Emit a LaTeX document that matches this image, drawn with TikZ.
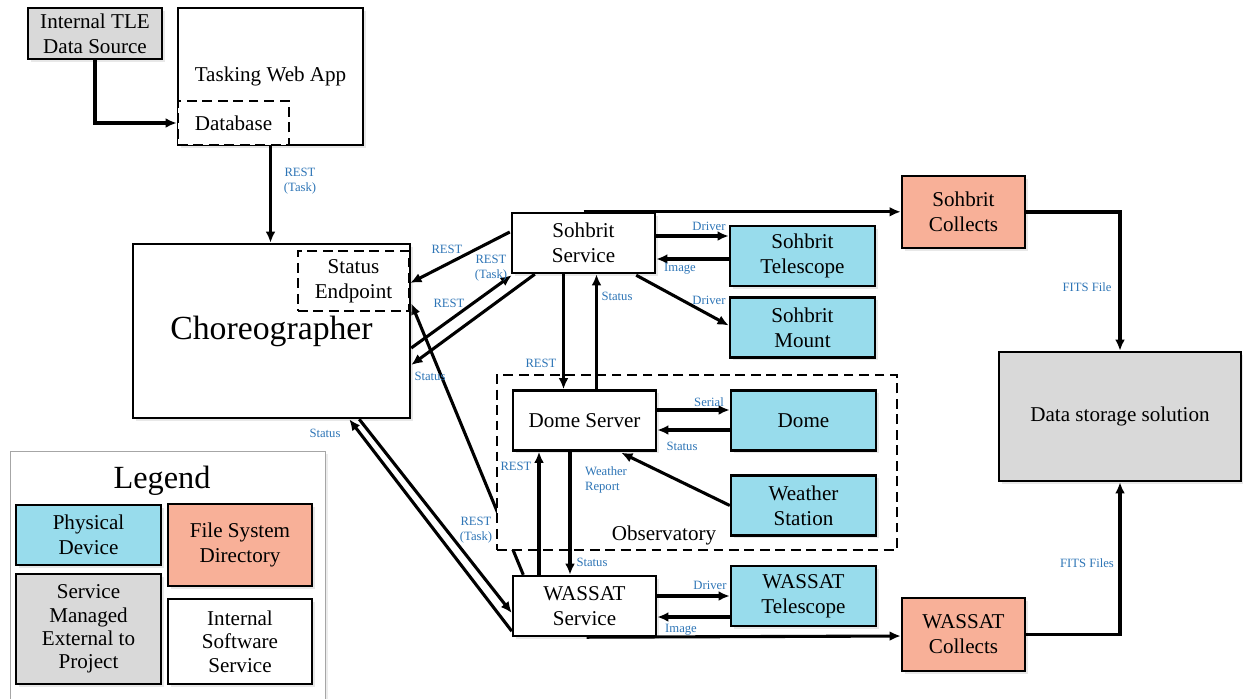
\documentclass[tikz,border=0pt]{standalone}
\usepackage{fontspec}
\setmainfont{Liberation Serif}
\usetikzlibrary{%
  arrows.meta,%
  calc,%
  shadows,%
  backgrounds%
}
\definecolor{devblue}{RGB}{152,220,236}
\definecolor{dirsalmon}{RGB}{248,176,152}
\definecolor{extgray}{RGB}{217,217,217}
\definecolor{lblblue}{RGB}{46,117,182}
\tikzset{
  box/.style={draw,line width=1.7pt,fill=white,align=center,inner sep=0pt,
    font=\fontsize{15}{17.8}\selectfont,
    drop shadow={shadow xshift=2pt,shadow yshift=-2pt,opacity=0.18}},
  device/.style={box,fill=devblue},
  dir/.style={box,fill=dirsalmon},
  ext/.style={box,fill=extgray},
  part/.style={draw,dash pattern=on 7pt off 4pt,line width=1.7pt,fill=white,
    align=center,inner sep=0pt,font=\fontsize{15}{17.8}\selectfont},
  svcsize/.style={minimum width=3.575cm,minimum height=1.5cm},
  devsize/.style={minimum width=3.625cm,minimum height=1.5cm},
  conn/.style={line width=2.2pt,-{Latex[length=8pt,width=7pt]}},
  lbl/.style={text=lblblue,font=\fontsize{9}{10.5}\selectfont,align=center,inner sep=0pt},
  legframe/.style={draw=gray!70,line width=0.6pt,fill=white,
    drop shadow={shadow xshift=2pt,shadow yshift=-2pt,opacity=0.15}}
}
\begin{document}
\begin{tikzpicture}[x=0.025cm,y=-0.025cm]
  \useasboundingbox (0,0) rectangle (1243,698);
  \node[ext,minimum width=3.35cm,minimum height=1.275cm] (tle) at (95,33.5) {Internal TLE\\Data Source};
  \node[box,minimum width=4.625cm,minimum height=3.425cm] (task) at (270.5,76.5) {Tasking Web App};
  \node[part,minimum width=2.775cm,minimum height=1.1cm] (db) at (233.5,123) {Database};
  \node[box,minimum width=6.925cm,minimum height=4.35cm,font=\fontsize{24}{28}\selectfont] (chor) at (271.5,331) {Choreographer};
  \node[part,minimum width=2.775cm,minimum height=1.5cm] (stat) at (353.5,281) {Status\\Endpoint};
  \node[box,svcsize] (sohsvc) at (583.5,243) {Sohbrit\\Service};
  \node[device,devsize] (sohtel) at (802.5,256) {Sohbrit\\Telescope};
  \node[device,devsize] (sohmnt) at (802.5,327.5) {Sohbrit\\Mount};
  \node[dir,minimum width=3.075cm,minimum height=1.8cm] (sohcol) at (963.5,212) {Sohbrit\\Collects};
  \node[ext,minimum width=6.05cm,minimum height=3.225cm] (store) at (1120,416.5) {Data storage solution};
  \node[box,svcsize] (domesv) at (584.5,420.5) {Dome Server};
  \node[device,devsize] (dome) at (803.5,420.5) {Dome};
  \node[device,devsize] (wx) at (803.5,505.5) {Weather\\Station};
  \node[box,svcsize] (wsvc) at (584.5,606) {WASSAT\\Service};
  \node[device,devsize] (wtel) at (803.5,596) {WASSAT\\Telescope};
  \node[dir,minimum width=3.075cm,minimum height=1.825cm] (wcol) at (963.5,634.5) {WASSAT\\Collects};
  \node[font=\fontsize{15}{17.8}\selectfont] (obslbl) at (664,535) {Observatory};

  \begin{pgfonlayer}{background}
    \draw[conn] ($(wsvc.north west)+(11.5,0)$) -- ($(stat.south east)+(1,-9)$);
    \node[draw,dash pattern=on 7pt off 4pt,line width=1.7pt,fill=white,
      minimum width=10cm,minimum height=4.375cm] (obs) at (697,462.5) {};
  \end{pgfonlayer}

  \draw[conn] (tle.south) |- (db.west);
  \draw[conn] (task.south) -- (task.south |- chor.north);
  \draw[conn] (sohsvc.north) -- (sohsvc.north -| sohcol.west);
  \draw[conn] ($(sohsvc.east)+(0,-7)$) -- ($(sohtel.west)+(0,-20)$);
  \draw[conn] ($(sohtel.west)+(0,3)$) -- ($(sohsvc.east)+(0,16)$);
  \draw[conn] ($(sohsvc.south east)+(-20,1)$) -- ($(sohmnt.west)+(0,-2)$);
  \draw[conn] ($(sohsvc.south)+(-20,0)$) -- ($(domesv.north)+(-21,0)$);
  \draw[conn] ($(domesv.north)+(12,0)$) -- ($(sohsvc.south)+(13,0)$);
  \draw[conn] ($(domesv.east)+(0,-10.5)$) -- ($(dome.west)+(0,-10.5)$);
  \draw[conn] ($(dome.west)+(0,9.5)$) -- ($(domesv.east)+(0,9.5)$);
  \draw[conn] (wx.west) -- ($(domesv.south east)+(-36,1)$);
  \draw[conn] ($(wsvc.north)+(-45.5,0)$) -- ($(domesv.south)+(-45.5,0)$);
  \draw[conn] ($(domesv.south)+(-14.5,0)$) -- ($(wsvc.north)+(-14.5,0)$);
  \draw[conn] ($(wsvc.east)+(0,-10)$) -- (wtel.west);
  \draw[conn] ($(wtel.west)+(0,21)$) -- ($(wsvc.east)+(0,11)$);
  \draw[conn] ($(wsvc.south)+(2,0)$) -- ($(wcol.west)+(0,1.5)$);
  \draw[conn] (sohcol.east) -| (store.north);
  \draw[conn] (wcol.east) -| (store.south);
  \draw[conn] ($(sohsvc.west)+(-1,-11)$) -- ($(stat.east)+(0,2)$);
  \draw[conn] ($(chor.east)+(0,17)$) -- ($(sohsvc.south west)+(1,1)$);
  \draw[conn] ($(sohsvc.south west)+(24,0)$) -- ($(chor.east)+(0,34)$);
  \draw[conn] ($(chor.south east)+(-52,0)$) -- ($(wsvc.west)+(0,7)$);
  \draw[conn] ($(wsvc.south west)+(0,-6)$) -- ($(chor.south east)+(-62,0)$);

  \node[lbl] (ltask) at (300,181) {REST\\(Task)};
  \node[lbl] (lsohrest) at (447,249) {REST};
  \node[lbl] (lsohtask) at (491,268) {REST\\(Task)};
  \node[lbl] (lwrest) at (449,303) {REST};
  \node[lbl] (lsohstat) at (430,376) {Status};
  \node[lbl] (lwstat) at (325,433) {Status};
  \node[lbl] (lwtask) at (476,530) {REST\\(Task)};
  \node[lbl] (ldrest) at (541,363) {REST};
  \node[lbl] (ldstat) at (617,296) {Status};
  \node[lbl] (ldrv1) at (709,226) {Driver};
  \node[lbl] (limg1) at (680,269) {Image};
  \node[lbl] (ldrv2) at (709,300) {Driver};
  \node[lbl] (lserial) at (709,402) {Serial};
  \node[lbl] (ldomestat) at (682,446) {Status};
  \node[lbl,align=left] (lwx) at (606,480) {Weather\\Report};
  \node[lbl] (lwrest2) at (516,466) {REST};
  \node[lbl] (lwstat2) at (592,562) {Status};
  \node[lbl] (ldrv3) at (710,585) {Driver};
  \node[lbl] (limg2) at (681,630) {Image};
  \node[lbl] (lfits1) at (1087,287) {FITS File};
  \node[lbl] (lfits2) at (1087,563) {FITS Files};

  \draw[legframe] (10,451) rectangle (325,712);
  \node[font=\fontsize{23}{27}\selectfont] (legtitle) at (162,481) {Legend};
  \node[device,devsize] (legdev) at (88.5,535) {Physical\\Device};
  \node[dir,minimum width=3.6cm,minimum height=2.05cm] (legdir) at (240,545) {File System\\Directory};
  \node[ext,minimum width=3.625cm,minimum height=2.75cm,font=\fontsize{15}{16.7}\selectfont] (legext) at (88.5,629) {Service\\Managed\\External to\\Project};
  \node[box,minimum width=3.6cm,minimum height=2.125cm,font=\fontsize{15}{16.7}\selectfont] (legsw) at (240,641.5) {Internal\\Software\\Service};
\end{tikzpicture}
\end{document}
